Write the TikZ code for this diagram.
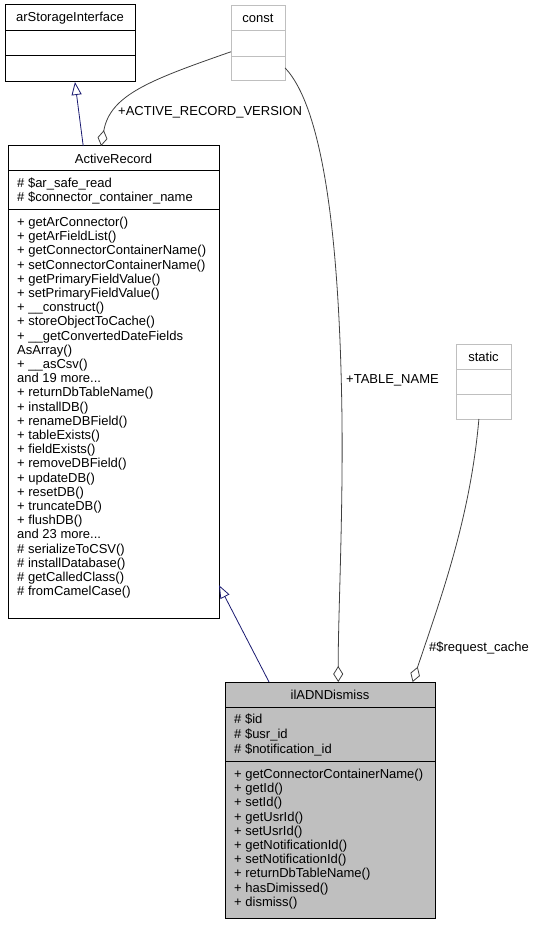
\documentclass[tikz,border=0pt]{standalone}
\usepackage{fontspec}
\setmainfont{Liberation Sans}
\usetikzlibrary{arrows.meta}

\definecolor{edgegray}{HTML}{404040}
\definecolor{boxgray}{HTML}{BFBFBF}
\definecolor{inhblue}{HTML}{191970}

\newcommand{\moredots}{.\kern0pt.\kern0pt.}

\tikzstyle{classbox} = [draw, anchor=north west, inner sep=0pt, outer sep=0pt, line width=1pt]
\tikzstyle{ghostbox} = [classbox, draw=boxgray]
\tikzstyle{classname} = [inner sep=0pt, font=\fontsize{13}{14}\selectfont]
\tikzstyle{member} = [anchor=base west, inner sep=0pt, font=\fontsize{13}{14}\selectfont]
\tikzstyle{role} = [anchor=west, inner sep=0pt, font=\fontsize{13}{14}\selectfont]
\tikzstyle{inherit} = [draw=inhblue, line width=0.8pt, -{Triangle[open, length=13pt, width=10pt]}]
\tikzstyle{aggr} = [draw=edgegray, line width=0.8pt, -{Diamond[open, length=16pt, width=10pt]}]

\begin{document}
\begin{tikzpicture}[x=1pt, y=-1pt]
      \useasboundingbox (0,0) rectangle (534,925);

      \node[classbox, minimum width=130pt, minimum height=77pt] (asi) at (5,5) {};
      \draw[line width=1pt] (5,31) -- (135,31);
      \draw[line width=1pt] (5,56) -- (135,56);
      \node[classname] (asiname) at (70,18.5) {arStorageInterface};

      \node[ghostbox, minimum width=54pt, minimum height=75pt] (cst) at (231,6) {};
      \draw[boxgray, line width=1pt] (231,31) -- (285,31);
      \draw[boxgray, line width=1pt] (231,57) -- (285,57);
      \node[classname] (cstname) at (258,18.5) {const};

      \node[ghostbox, minimum width=55pt, minimum height=75pt] (st) at (456,344) {};
      \draw[boxgray, line width=1pt] (456,369) -- (511,369);
      \draw[boxgray, line width=1pt] (456,394) -- (511,394);
      \node[classname] (stname) at (483.5,356.5) {static};

      \node[classbox, minimum width=211pt, minimum height=472pt] (ar) at (8,146) {};
      \draw[line width=1pt] (8,171) -- (219,171);
      \draw[line width=1pt] (8,210) -- (219,210);
      \node[classname] (arname) at (113.5,158.5) {ActiveRecord};
      \node[member] (arattr1) at (17,188) {\# \$ar\_safe\_read};
      \node[member] (arattr2) at (17,202) {\# \$connector\_container\_name};
      \foreach \m [count=\i from 0] in {+ getArConnector(), + getArFieldList(),
            + getConnectorContainerName(), + setConnectorContainerName(),
            + getPrimaryFieldValue(), + setPrimaryFieldValue(), + \_\_construct(),
            + storeObjectToCache(), + \_\_getConvertedDateFields, AsArray(),
            + \_\_asCsv(), and 19 more\moredots, + returnDbTableName(), + installDB(),
            + renameDBField(), + tableExists(), + fieldExists(), + removeDBField(),
            + updateDB(), + resetDB(), + truncateDB(), + flushDB(), and 23 more\moredots,
            \# serializeToCSV(), \# installDatabase(), \# getCalledClass(),
            \# fromCamelCase()}
        \node[member] (arop\i) at (17,226.5+14.2*\i) {\m};

      \node[classbox, fill=boxgray, minimum width=210pt, minimum height=236pt] (dis) at (225,682) {};
      \draw[line width=1pt] (225,707) -- (435,707);
      \draw[line width=1pt] (225,761) -- (435,761);
      \node[classname] (disname) at (330,694.5) {ilADNDismiss};
      \node[member] (disattr1) at (234,723.5) {\# \$id};
      \node[member] (disattr2) at (234,738.5) {\# \$usr\_id};
      \node[member] (disattr3) at (234,753) {\# \$notification\_id};
      \foreach \m [count=\i from 0] in {+ getConnectorContainerName(), + getId(),
            + setId(), + getUsrId(), + setUsrId(), + getNotificationId(),
            + setNotificationId(), + returnDbTableName(), + hasDimissed(), + dismiss()}
        \node[member] (disop\i) at (234,778.5+14.2*\i) {\m};

      \draw[inherit] (ar) -- (asi);
      \draw[inherit] (dis) -- (ar);
      \draw[aggr] (cst.197) .. controls (150,80) and (110,95) .. (ar.93.8);
      \draw[aggr] (cst.318) .. controls (325,110) and (340,250) .. (342,420)
            .. controls (343,520) and (338,620) .. (dis.86.6);
      \draw[aggr] (st.263) .. controls (470,520) and (440,600) .. (dis.55.5);

      \node[role] (lblver) at (118,112) {+ACTIVE\_RECORD\_VERSION};
      \node[role] (lbltab) at (346,380) {+TABLE\_NAME};
      \node[role] (lblcache) at (429,648) {\#\$request\_cache};
    \end{tikzpicture}
\end{document}
